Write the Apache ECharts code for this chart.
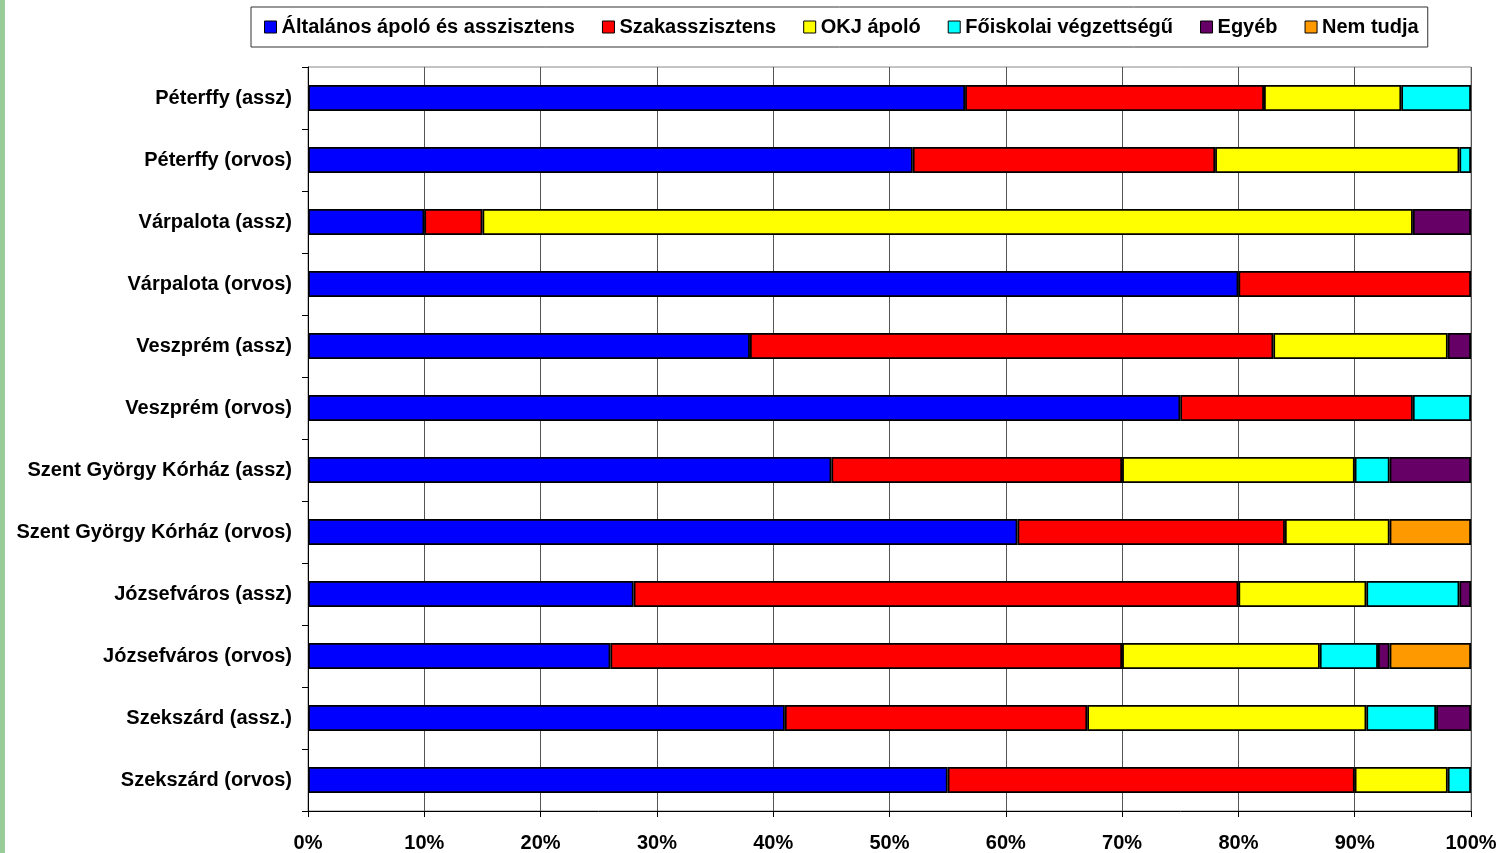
<!DOCTYPE html>
<html>
<head>
<meta charset="utf-8">
<script src="https://cdn.jsdelivr.net/npm/echarts@6/dist/echarts.min.js"></script>
<style>
  html, body { margin: 0; padding: 0; background: #fff; }
  #stripe { position: absolute; left: 0; top: 0; width: 5px; height: 853px; background: #99cc99; }
  #chart { width: 1501px; height: 853px; }
</style>
</head>
<body>
<div id="stripe"></div>
<div id="chart"></div>
<script>
const categories = [
  "Péterffy (assz)", "Péterffy (orvos)", "Várpalota (assz)", "Várpalota (orvos)",
  "Veszprém (assz)", "Veszprém (orvos)", "Szent György Kórház (assz)",
  "Szent György Kórház (orvos)", "Józsefváros (assz)", "Józsefváros (orvos)",
  "Szekszárd (assz.)", "Szekszárd (orvos)"
];
const seriesNames = ["Általános ápoló és asszisztens", "Szakasszisztens", "OKJ ápoló",
  "Főiskolai végzettségű", "Egyéb", "Nem tudja"];
const altalanos = [56.5, 52, 10, 80, 38, 75, 45, 61, 28, 26, 41, 55];
const szakasszisztens = [25.7, 26, 5, 20, 45, 20, 25, 23, 52, 44, 26, 35];
const okj = [11.8, 21, 80, 0, 15, 0, 20, 9, 11, 17, 24, 8];
const foiskolai = [6, 1, 0, 0, 0, 5, 3, 0, 8, 5, 6, 2];
const egyeb = [0, 0, 5, 0, 2, 0, 7, 0, 1, 1, 3, 0];
const nemTudja = [0, 0, 0, 0, 0, 0, 0, 7, 0, 7, 0, 0];
const colors = ["#0000ff", "#ff0000", "#ffff00", "#00ffff", "#660066", "#ff9900"];

const allData = [altalanos, szakasszisztens, okj, foiskolai, egyeb, nemTudja];
const font = "'Liberation Sans', Arial, sans-serif";

let chart = echarts.init(document.getElementById("chart"));
let option = {
  animation: false,
  color: colors,
  legend: {
    left: 251,
    top: 7,
    itemWidth: 12,
    itemHeight: 12,
    itemGap: 27,
    icon: "rect",
    padding: [10, 9, 10, 13],
    borderColor: "#333",
    borderWidth: 1,
    backgroundColor: "#fff",
    itemStyle: { borderColor: "#000", borderWidth: 1 },
    textStyle: { fontFamily: font, fontSize: 20, fontWeight: "bold", color: "#000" },
    data: seriesNames
  },
  grid: {
    left: 308,
    right: 30,
    top: 67,
    bottom: 42,
    show: true,
    borderColor: "#888",
    borderWidth: 1
  },
  xAxis: {
    type: "value",
    min: 0,
    max: 100,
    interval: 10,
    axisLine: { show: true, lineStyle: { color: "#000", width: 1 } },
    axisTick: { show: true, length: 6, lineStyle: { color: "#000" } },
    splitLine: { show: true, lineStyle: { color: "#555", width: 1 } },
    axisLabel: {
      formatter: "{value}%",
      margin: 22,
      fontFamily: font, fontSize: 20, fontWeight: "bold", color: "#000"
    }
  },
  yAxis: {
    type: "category",
    inverse: true,
    data: categories,
    axisLine: { show: true, lineStyle: { color: "#000", width: 1 } },
    axisTick: { show: true, length: 6, lineStyle: { color: "#000" } },
    axisLabel: {
      margin: 16,
      fontFamily: font, fontSize: 20, fontWeight: "bold", color: "#000"
    }
  },
  series: seriesNames.map((name, i) => ({
    name: name,
    type: "bar",
    stack: "total",
    barWidth: 26,
    itemStyle: { color: colors[i], borderColor: "#000", borderWidth: 1.8 },
    data: allData[i].map(v => (v === 0 ? "-" : v))
  }))
};
chart.setOption(option);
</script>
</body>
</html>
